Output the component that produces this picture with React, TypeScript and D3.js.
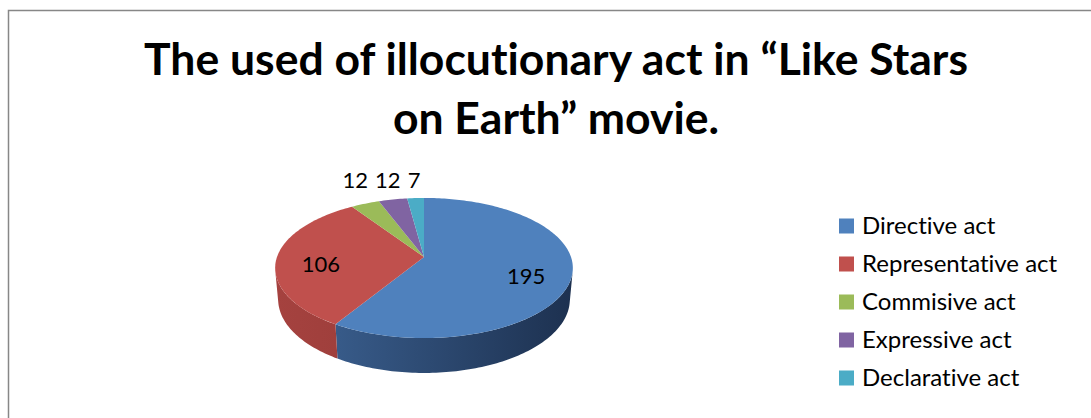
import React from 'react';
import * as d3 from 'd3';

const categories = ['Directive act', 'Representative act', 'Commisive act', 'Expressive act', 'Declarative act'];
const values = [195, 106, 12, 12, 7];
const colors = ['#4F81BD', '#C0504D', '#9BBB59', '#8064A2', '#4BACC6'];
const sideDark = ['#1d3150', '#8a3431', '#6f8a3c', '#5a4575', '#2f7f95'];
const sideLight = ['#3e6597', '#a5423f', '#86a34a', '#6d5590', '#3b98b0'];

const W = 1091;
const H = 418;

// simple perspective camera for the 3d pie
const cx = 424;
const cy = 257;
const tilt = (27.7 * Math.PI) / 180;
const D = 5.64;
const F = 829;
const thick = 0.244;

// a: angle clockwise from 12 o'clock, r: radius (0..1), h: 0 top face, -thick bottom
function proj(a: number, r = 1, h = 0): [number, number] {
  const u = r * Math.sin(a);
  const v = -r * Math.cos(a);
  const z = D - (h * Math.sin(tilt) + v * Math.cos(tilt));
  const yc = h * Math.cos(tilt) - v * Math.sin(tilt);
  return [cx + (F * u) / z, cy - (F * yc) / z];
}

function topPath(a0: number, a1: number) {
  const p = d3.path();
  p.moveTo(cx, cy);
  const n = Math.max(2, Math.ceil((a1 - a0) / 0.02));
  for (let i = 0; i <= n; i++) {
    const [x, y] = proj(a0 + ((a1 - a0) * i) / n);
    p.lineTo(x, y);
  }
  p.closePath();
  return p.toString();
}

// only the part of the wall that faces the camera is drawn
const vMin = 1 / (D * Math.cos(tilt));

function sidePath(a0: number, a1: number) {
  const s = Math.max(a0, Math.PI - Math.acos(vMin));
  const e = Math.min(a1, Math.PI + Math.acos(vMin));
  if (e <= s) return null;
  const n = Math.max(2, Math.ceil((e - s) / 0.02));
  const p = d3.path();
  for (let i = 0; i <= n; i++) {
    const [x, y] = proj(s + ((e - s) * i) / n);
    if (i === 0) p.moveTo(x, y);
    else p.lineTo(x, y);
  }
  for (let i = n; i >= 0; i--) {
    const [x, y] = proj(s + ((e - s) * i) / n, 1, -thick);
    p.lineTo(x, y);
  }
  p.closePath();
  return p.toString();
}

export default function App() {
  const arcs = d3.pie<number>().sort(null).startAngle(0).endAngle(2 * Math.PI)(values);

  const legendY = d3.scalePoint<string>().domain(categories).range([226, 378]);

  const font = 'Lato, "Open Sans", sans-serif';
  const noLig = { fontVariantLigatures: 'none' } as React.CSSProperties;

  const left = proj(-Math.PI / 2)[0];
  const right = proj(Math.PI / 2)[0];
  const topY = proj(0)[1];

  return (
    <svg width={W} height={H} style={{ position: 'absolute', left: 0, top: 0, background: '#fff' }}>
      <defs>
        {colors.map((c, i) => (
          <linearGradient key={i} id={'side' + i} gradientUnits="userSpaceOnUse" x1={left} x2={right} y1={0} y2={0}>
            <stop offset="0%" stopColor={sideLight[i]} />
            <stop offset="100%" stopColor={sideDark[i]} />
          </linearGradient>
        ))}
      </defs>
      <rect x={8.5} y={10.5} width={W + 20} height={H + 20} fill="none" stroke="#878787" strokeWidth={1.5} />

      <g fontFamily={font} fontWeight="bold" fontSize={44.5} fill="#000" textAnchor="middle" style={noLig}>
        <text x={556} y={75}>The used of illocutionary act in “Like Stars</text>
        <text x={556} y={134}>on Earth” movie.</text>
      </g>

      {arcs.map((a, i) => {
        const d = sidePath(a.startAngle, a.endAngle);
        return d ? <path key={'s' + i} d={d} fill={`url(#side${i})`} /> : null;
      })}
      {arcs.map((a, i) => (
        <path key={'t' + i} d={topPath(a.startAngle, a.endAngle)} fill={colors[i]} />
      ))}

      {arcs.map((a, i) => {
        const mid = (a.startAngle + a.endAngle) / 2;
        const big = a.endAngle - a.startAngle > 0.5;
        let x: number, y: number;
        if (big) {
          [x, y] = proj(mid, 0.7);
          y += 6;
        } else {
          x = proj(mid, 1.2)[0];
          y = topY - 18;
        }
        return (
          <text key={'l' + i} x={x} y={y} dy="0.35em" textAnchor="middle" fontFamily={font} fontSize={22} fill="#000">
            {values[i]}
          </text>
        );
      })}

      {categories.map((c, i) => (
        <g key={c} transform={`translate(839,${legendY(c)})`}>
          <rect x={0} y={-7.5} width={15} height={15} fill={colors[i]} />
          <text x={23} y={0} dy="0.35em" fontFamily={font} fontSize={24} fill="#000" style={noLig}>
            {c}
          </text>
        </g>
      ))}
    </svg>
  );
}
